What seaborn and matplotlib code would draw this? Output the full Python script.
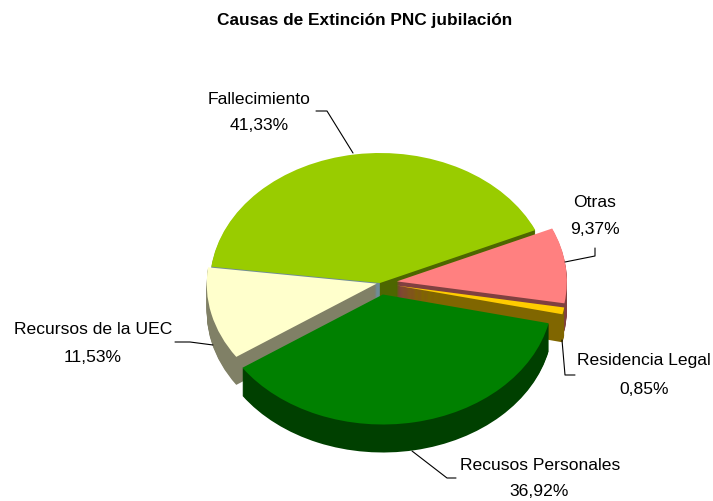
import matplotlib
matplotlib.use("Agg")
import matplotlib.pyplot as plt
import seaborn as sns

sns.set_theme(style="white")
plt.rcParams['font.family'] = ['Liberation Sans', 'DejaVu Sans']

causas = ['Fallecimiento', 'Otras', 'Residencia Legal', 'Recusos Personales', 'Recursos de la UEC']
valores = [41.33, 9.37, 0.85, 36.92, 11.53]
separacion = [0.0, 0.10, 0.10, 0.09, 0.02]
color_top = sns.color_palette(['#99CC00', '#FF8080', '#FFCC00', '#008000', '#FFFFCC'])
color_lado = sns.color_palette(['#4D6600', '#804040', '#806600', '#004000', '#808066'])
color_pared = '#6F8C96'  # wall of the big slice facing the UEC slice
orden_pintado = [0, 1, 2, 4, 3]  # back to front

W, H = 713, 502
cx, cy = 380, 284
rx, ry = 170, 130
inicio = 172.8
prof = 28

fig, ax = plt.subplots(figsize=(W / 100, H / 100), dpi=100)
fig.subplots_adjust(0, 0, 1, 1)


def pie_una(i, color, dy, vals=None, sep=None, start=inicio):
    vals = valores if vals is None else vals
    sep = separacion if sep is None else sep
    cols = ['none'] * len(vals)
    cols[i] = color
    ax.pie(vals, colors=cols, explode=sep, startangle=start, counterclock=False,
           radius=1, center=(0, dy), wedgeprops={'linewidth': 0})


for i in orden_pintado:
    for d in range(prof, 0, -1):
        dy = -d / ry
        if i == 0:
            # the far slice shows two different walls, split it in half
            mitad = [valores[0] / 2, valores[0] / 2, 100 - valores[0]]
            pie_una(0, color_pared, dy, mitad, [0, 0, 0])
            pie_una(1, color_lado[0], dy, mitad, [0, 0, 0])
        else:
            pie_una(i, color_lado[i], dy)
    pie_una(i, color_top[i], 0)

ax.set_aspect('auto')
ax.set_xlim(-cx / rx, (W - cx) / rx)
ax.set_ylim(-(H - cy) / ry, cy / ry)
ax.set_axis_off()


def linea(xs, ys):
    fig.add_artist(plt.Line2D([x / W for x in xs], [1 - y / H for y in ys],
                              color='black', lw=0.8))


linea([316, 327, 353], [112, 112, 154])
linea([565, 595, 595], [263, 257, 249])
linea([562, 565, 575], [341, 376, 376])
linea([175, 190, 213], [343, 343, 346])
linea([412, 447, 456], [452, 479, 479])

pos_nombre = [(259, 100), (595, 203), (644, 360), (540, 466), (93, 330)]
pos_valor = [(259, 125), (595, 229), (644, 390), (539, 492), (93, 357)]
for nombre, v, p1, p2 in zip(causas, valores, pos_nombre, pos_valor):
    fig.text(p1[0] / W, 1 - p1[1] / H, nombre, ha='center', va='center',
             fontsize=12.6, color='black')
    fig.text(p2[0] / W, 1 - p2[1] / H, f"{v:.2f}%".replace('.', ','), ha='center', va='center',
             fontsize=12.6, color='black')

fig.text(365 / W, 1 - 20 / H, 'Causas de Extinción PNC jubilación', ha='center', va='center',
         fontsize=12.4, fontweight='bold', color='black')

fig.savefig('out.png', dpi=100, facecolor='white')
